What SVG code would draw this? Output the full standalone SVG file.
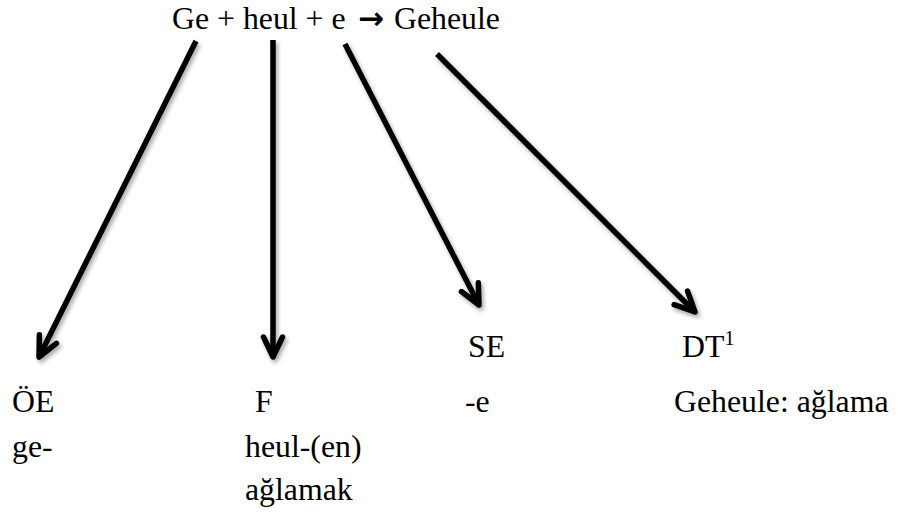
<svg xmlns="http://www.w3.org/2000/svg" width="898" height="530" viewBox="0 0 898 530">
  <style>
    text { font-family: "Liberation Serif", "Times New Roman", serif; font-size: 31.8px; fill: #000; }
    .sup { font-size: 20px; }
    .arrow-glyph { font-family: "DejaVu Sans", sans-serif; font-weight: bold; font-size: 31px; }
    .conn { fill: none; stroke: #000; stroke-width: 5.5; stroke-linecap: butt; marker-end: url(#head); }
  </style>
  <defs>
    <filter id="soft" x="-20%" y="-20%" width="140%" height="140%">
      <feDropShadow dx="2" dy="3" stdDeviation="2" flood-color="#000" flood-opacity="0.35"/>
    </filter>
    <!-- open chevron arrowhead -->
    <marker id="head" markerUnits="userSpaceOnUse" viewBox="-26 -14 32 28" refX="0" refY="0" markerWidth="32" markerHeight="28" orient="auto" overflow="visible">
      <path d="M-20,-9.5 L0,0 L-20,9.5" fill="none" stroke="#000" stroke-width="5.5" stroke-linecap="round" stroke-linejoin="round"/>
    </marker>
  </defs>
  <rect width="898" height="530" fill="#fff"/>

  <!-- formula -->
  <g id="formula">
    <text x="172" y="29">Ge + heul + e<tspan class="arrow-glyph" x="358">→</tspan><tspan x="394">Geheule</tspan></text>
  </g>

  <!-- connectors -->
  <g id="connectors" filter="url(#soft)">
    <path class="conn" d="M196,41 L39,357"/>
    <path class="conn" d="M273,40 L273,357"/>
    <path class="conn" d="M345,44 L479,305"/>
    <path class="conn" d="M437,54 L695,312"/>
  </g>

  <!-- nodes -->
  <g id="node-oe">
    <text x="12" y="412">ÖE</text>
    <text x="12" y="457">ge-</text>
  </g>
  <g id="node-f">
    <text x="255" y="412">F</text>
    <text x="245" y="457">heul-(en)</text>
    <text x="245" y="500">ağlamak</text>
  </g>
  <g id="node-se">
    <text x="468" y="357">SE</text>
    <text x="465" y="412">-e</text>
  </g>
  <g id="node-dt">
    <text x="682" y="357">DT<tspan class="sup" dy="-12">1</tspan></text>
    <text x="674" y="412">Geheule: ağlama</text>
  </g>
</svg>
